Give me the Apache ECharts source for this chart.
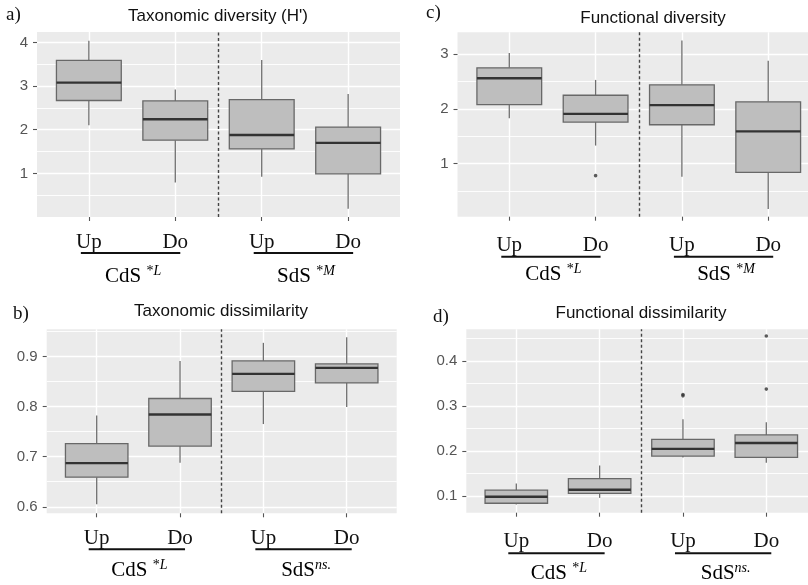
<!DOCTYPE html>
<html><head><meta charset="utf-8">
<script src="https://cdn.jsdelivr.net/npm/echarts@6/dist/echarts.min.js"></script>
<style>html,body{margin:0;padding:0;background:#fff}#c{width:808px;height:585px}</style>
</head><body><div id="c"></div>
<script>
// ---------- data ----------
const categories = ['Up', 'Do', 'Up', 'Do'];
const groupNames = ['CdS', 'SdS'];
const titles = ["Taxonomic diversity (H')", 'Taxonomic dissimilarity', 'Functional diversity', 'Functional dissimilarity'];
const panelLetters = ['a)', 'b)', 'c)', 'd)'];

// each box: [min, Q1, median, Q3, max]
const taxDivStats = [[2.10, 2.67, 3.08, 3.59, 4.04], [0.79, 1.76, 2.24, 2.66, 2.92], [0.92, 1.56, 1.88, 2.69, 3.60], [0.19, 0.99, 1.70, 2.06, 2.82]];
const taxDisStats = [[0.605, 0.659, 0.687, 0.726, 0.782], [0.688, 0.721, 0.784, 0.816, 0.891], [0.765, 0.830, 0.865, 0.891, 0.927], [0.799, 0.847, 0.877, 0.885, 0.938]];
const funDivStats = [[1.83, 2.08, 2.56, 2.75, 3.02], [1.33, 1.76, 1.91, 2.25, 2.53], [0.76, 1.71, 2.07, 2.44, 3.25], [0.17, 0.84, 1.59, 2.13, 2.88]];
const funDisStats = [[0.081, 0.084, 0.0985, 0.113, 0.128], [0.096, 0.106, 0.114, 0.139, 0.168], [0.186, 0.189, 0.205, 0.226, 0.271], [0.174, 0.186, 0.218, 0.236, 0.264]];

// outliers: [category index (0-based), value]
const taxDivOutliers = [];
const taxDisOutliers = [];
const funDivOutliers = [[1, 0.78]];
const funDisOutliers = [[2, 0.323], [2, 0.326], [3, 0.338], [3, 0.456]];

// significance marks per group
const taxDivSig = ['*L', '*M'];
const taxDisSig = ['*L', 'ns.'];
const funDivSig = ['*L', '*M'];
const funDisSig = ['*L', 'ns.'];

// y tick labels
const taxDivTicks = [1, 2, 3, 4];
const taxDisTicks = [0.6, 0.7, 0.8, 0.9];
const funDivTicks = [1, 2, 3];
const funDisTicks = [0.1, 0.2, 0.3, 0.4];

// ---------- layout / styles ----------
const panels = [
  { stats: taxDivStats, outliers: taxDivOutliers, sig: taxDivSig, ticks: taxDivTicks, title: titles[0], letter: panelLetters[0],
    left: 37, top: 32, width: 363, height: 185, yMin: 0, yMax: 4.24, split: 4, labelMargin: 15, ul: 36, gl: 59, tx: 218, ty: 8, lx: 6, ly: 15 },
  { stats: taxDisStats, outliers: taxDisOutliers, sig: taxDisSig, ticks: taxDisTicks, title: titles[1], letter: panelLetters[1],
    left: 46.7, top: 329.3, width: 350, height: 184, yMin: 0.587, yMax: 0.954, split: 4, labelMargin: 15, ul: 36, gl: 57, tx: 221, ty: 303, lx: 13, ly: 314 },
  { stats: funDivStats, outliers: funDivOutliers, sig: funDivSig, ticks: funDivTicks, title: titles[2], letter: panelLetters[2],
    left: 457.5, top: 32.3, width: 362.5, height: 184.4, yMin: 0.03, yMax: 3.40, split: 3, labelMargin: 18, ul: 40, gl: 58, tx: 653, ty: 9.5, lx: 426, ly: 13 },
  { stats: funDisStats, outliers: funDisOutliers, sig: funDisSig, ticks: funDisTicks, title: titles[3], letter: panelLetters[3],
    left: 466.3, top: 329.3, width: 350, height: 183.4, yMin: 0.063, yMax: 0.471, split: 4, labelMargin: 18, ul: 40.6, gl: 61, tx: 641, ty: 304.5, lx: 433, ly: 317.5 }
];

const BOX_WIDTH = 0.75;
const SERIF = "'Liberation Serif', 'Times New Roman', serif";
const SANS = "'Liberation Sans', Arial, sans-serif";
const catPositions = categories.map((c, i) => i + 1);

function renderBox(params, api) {
  const x = api.value(0);
  const lo = api.coord([x, api.value(1)]);
  const q1 = api.coord([x, api.value(2)]);
  const med = api.coord([x, api.value(3)]);
  const q3 = api.coord([x, api.value(4)]);
  const hi = api.coord([x, api.value(5)]);
  const w = api.size([BOX_WIDTH, 0])[0];
  const ws = { stroke: '#6f6f6f', lineWidth: 1.3 };
  return {
    type: 'group',
    children: [
      { type: 'line', shape: { x1: lo[0], y1: lo[1], x2: q1[0], y2: q1[1] }, style: ws },
      { type: 'line', shape: { x1: q3[0], y1: q3[1], x2: hi[0], y2: hi[1] }, style: ws },
      { type: 'rect', shape: { x: q3[0] - w / 2, y: q3[1], width: w, height: q1[1] - q3[1] },
        style: { fill: '#bebebe', stroke: '#686868', lineWidth: 1.3 } },
      { type: 'line', shape: { x1: med[0] - w / 2, y1: med[1], x2: med[0] + w / 2, y2: med[1] },
        style: { stroke: '#333333', lineWidth: 2.4 } }
    ]
  };
}

const option = {
  animation: false,
  backgroundColor: '#ffffff',
  title: panels.map(p => ({
    text: p.title, left: p.tx, top: p.ty, textAlign: 'center', padding: 0,
    textStyle: { fontFamily: SANS, fontSize: 17, fontWeight: 'normal', color: '#111' }
  })),
  grid: panels.map(p => ({
    left: p.left, top: p.top, width: p.width, height: p.height,
    show: true, backgroundColor: '#ebebeb', borderWidth: 0, containLabel: false, outerBoundsMode: 'none'
  })),
  xAxis: panels.map((p, i) => ({
    type: 'value', gridIndex: i, min: 0.4, max: categories.length + 0.6,
    axisLine: { show: false },
    axisTick: { show: true, length: 4, customValues: catPositions, lineStyle: { color: '#555', width: 1.1 } },
    axisLabel: { customValues: catPositions, margin: p.labelMargin, formatter: v => categories[Math.round(v) - 1] || '',
      fontFamily: SERIF, fontSize: 21, color: '#111' },
    splitLine: { show: true, lineStyle: { color: '#ffffff', width: 1.4 } },
    minorSplitLine: { show: false }
  })),
  yAxis: panels.map((p, i) => ({
    type: 'value', gridIndex: i, min: p.yMin, max: p.yMax, splitNumber: p.split,
    axisLine: { show: false },
    axisTick: { show: true, length: 4, customValues: p.ticks, lineStyle: { color: '#555', width: 1.1 } },
    axisLabel: { customValues: p.ticks, margin: 9, fontFamily: SANS, fontSize: 15, color: '#555' },
    splitLine: { show: true, lineStyle: { color: '#ffffff', width: 1.4 } },
    minorTick: { show: false, splitNumber: 2 },
    minorSplitLine: { show: true, lineStyle: { color: '#ffffff', width: 0.9 } }
  })),
  series: []
};

panels.forEach((p, i) => {
  option.series.push({
    type: 'custom', name: p.title, xAxisIndex: i, yAxisIndex: i,
    renderItem: renderBox,
    encode: { x: 0, y: [1, 2, 3, 4, 5] },
    data: p.stats.map((s, k) => [catPositions[k]].concat(s)),
    z: 3
  });
  option.series.push({
    type: 'scatter', name: p.title + ' outliers', xAxisIndex: i, yAxisIndex: i,
    symbol: 'circle', symbolSize: 3.6,
    itemStyle: { color: '#333333' },
    data: p.outliers.map(o => [catPositions[o[0]], o[1]]),
    z: 4,
    markLine: {
      silent: true, symbol: ['none', 'none'], label: { show: false },
      lineStyle: { type: [3, 2.5], color: '#444', width: 1.4 },
      data: [{ xAxis: (catPositions[1] + catPositions[2]) / 2 }]
    }
  });
});

const chart = echarts.init(document.getElementById('c'), null, { renderer: 'canvas' });
chart.setOption(option);

// ---------- annotations placed via the axes' own scales ----------
function sigRich(name, sig) {
  if (sig.charAt(0) === '*') return '{g|' + name + ' }{s|*}{i|' + sig.slice(1) + '}';
  return '{g|' + name + '}{i|' + sig + '}';
}
const rich = {
  g: { fontFamily: SERIF, fontSize: 21, color: '#111', lineHeight: 24 },
  s: { fontFamily: SERIF, fontSize: 14, color: '#111', lineHeight: 14, verticalAlign: 'top' },
  i: { fontFamily: SERIF, fontSize: 14, fontStyle: 'italic', color: '#111', lineHeight: 14, verticalAlign: 'top' }
};
const graphics = [];
panels.forEach((p, i) => {
  const px = catPositions.map(c => chart.convertToPixel({ gridIndex: i }, [c, p.yMin]));
  const bottom = px[0][1];
  groupNames.forEach((gName, g) => {
    const a = px[2 * g], b = px[2 * g + 1];
    graphics.push({ type: 'line', silent: true,
      shape: { x1: a[0] - 8, y1: bottom + p.ul, x2: b[0] + 5, y2: bottom + p.ul },
      style: { stroke: '#111', lineWidth: 2 } });
    graphics.push({ type: 'text', silent: true,
      x: (a[0] + b[0]) / 2 + 1, y: bottom + p.gl,
      style: { text: sigRich(gName, p.sig[g]), rich: rich, align: 'center', verticalAlign: 'middle' } });
  });
  graphics.push({ type: 'text', silent: true, x: p.lx, y: p.ly,
    style: { text: p.letter, fontFamily: SERIF, fontSize: 19, fill: '#111', align: 'left', verticalAlign: 'middle' } });
});
chart.setOption({ graphic: graphics });
</script></body></html>
